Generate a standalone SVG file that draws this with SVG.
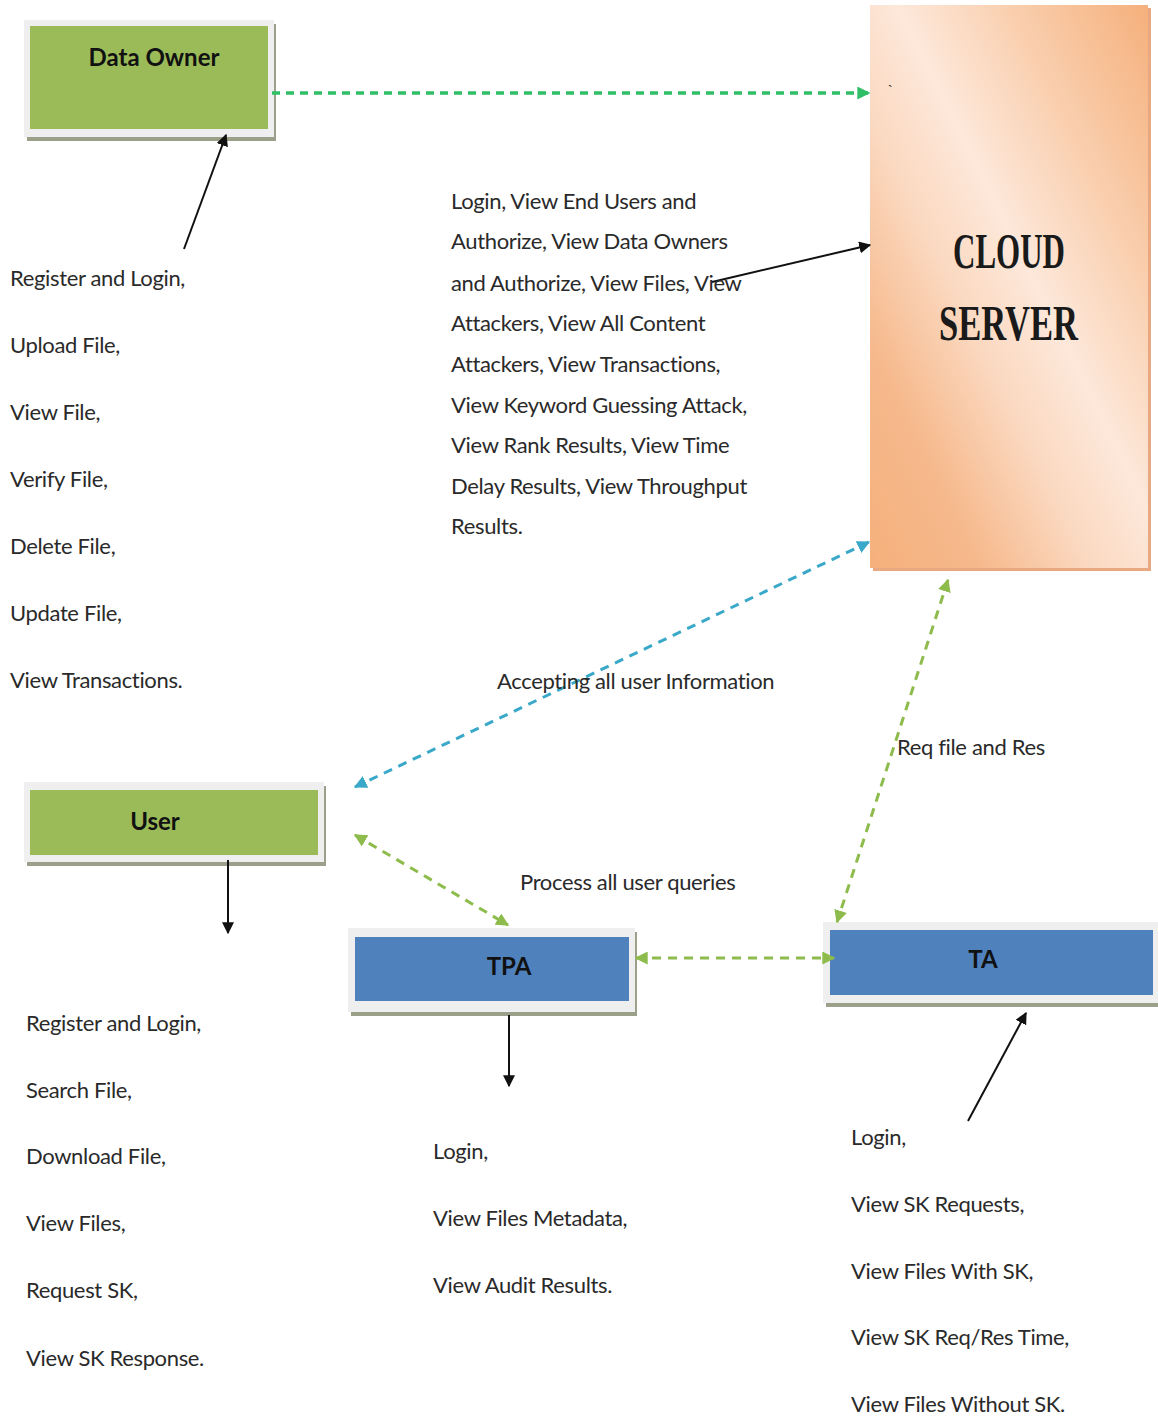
<svg xmlns="http://www.w3.org/2000/svg" width="1158" height="1420" viewBox="0 0 1158 1420">
<defs>
<linearGradient id="cloudGrad" x1="1" y1="0" x2="0" y2="1">
<stop offset="0" stop-color="#f5b07c"/>
<stop offset="0.22" stop-color="#f9cba8"/>
<stop offset="0.45" stop-color="#fde8da"/>
<stop offset="0.6" stop-color="#fbd9c1"/>
<stop offset="0.8" stop-color="#f6b98c"/>
<stop offset="1" stop-color="#f5b07c"/>
</linearGradient>
<marker id="ahBlack" viewBox="0 0 10 10" refX="9" refY="5" markerWidth="12" markerHeight="12" markerUnits="userSpaceOnUse" orient="auto"><path d="M0,0 L10,5 L0,10 z" fill="#111"/></marker>
<marker id="ahGreen" viewBox="0 0 10 10" refX="9" refY="5" markerWidth="13" markerHeight="13" markerUnits="userSpaceOnUse" orient="auto"><path d="M0,0 L10,5 L0,10 z" fill="#2fbf67"/></marker>
<marker id="ahBlueE" viewBox="0 0 10 10" refX="9" refY="5" markerWidth="13" markerHeight="13" markerUnits="userSpaceOnUse" orient="auto"><path d="M0,0 L10,5 L0,10 z" fill="#3aa8c8"/></marker>
<marker id="ahBlueS" viewBox="0 0 10 10" refX="1" refY="5" markerWidth="13" markerHeight="13" markerUnits="userSpaceOnUse" orient="auto"><path d="M10,0 L0,5 L10,10 z" fill="#3aa8c8"/></marker>
<marker id="ahOliveE" viewBox="0 0 10 10" refX="9" refY="5" markerWidth="13" markerHeight="13" markerUnits="userSpaceOnUse" orient="auto"><path d="M0,0 L10,5 L0,10 z" fill="#8dbb4c"/></marker>
<marker id="ahOliveS" viewBox="0 0 10 10" refX="1" refY="5" markerWidth="13" markerHeight="13" markerUnits="userSpaceOnUse" orient="auto"><path d="M10,0 L0,5 L10,10 z" fill="#8dbb4c"/></marker>
</defs>
<style>
.t{font-family:Lato,"Liberation Sans",sans-serif;font-size:22px;letter-spacing:-0.35px;fill:#2a2a2a}
.lbl{font-family:Lato,"Liberation Sans",sans-serif;font-size:24px;font-weight:bold;fill:#111;text-anchor:middle}
.cs{font-family:"Liberation Serif",serif;font-size:50px;font-weight:bold;fill:#1a1a1a}
.frame{fill:#efefef}
.shadow{fill:#9aa08a}
.green{fill:#9bbb59}
.blue{fill:#4f81bd}
.blk{stroke:#111;stroke-width:2;fill:none}
.dgreen{stroke:#2fbf67;stroke-width:3.5;stroke-dasharray:8 6;fill:none}
.dblue{stroke:#3aa8c8;stroke-width:3;stroke-dasharray:9 7;fill:none}
.dolive{stroke:#8dbb4c;stroke-width:3;stroke-dasharray:9 7;fill:none}
</style>
<rect width="1158" height="1420" fill="#fff"/>

<g id="data-owner">
<rect class="shadow" x="27" y="24" width="249" height="117"/>
<rect class="frame" x="24" y="20" width="250" height="117"/>
<rect class="green" x="30" y="26" width="238" height="103"/>
<text class="lbl" x="154" y="66">Data Owner</text>
</g>

<g id="cloud-server">
<rect x="873" y="8" width="278" height="563" fill="#e8a882"/>
<rect x="870" y="5" width="278" height="563" fill="url(#cloudGrad)"/>
<text class="cs" x="953" y="268" textLength="112" lengthAdjust="spacingAndGlyphs">CLOUD</text>
<text class="cs" x="939" y="340" textLength="139" lengthAdjust="spacingAndGlyphs">SERVER</text>
<text x="888" y="96" font-family="'Liberation Sans',sans-serif" font-size="14" fill="#111">`</text>
</g>

<g id="user">
<rect class="shadow" x="27" y="786" width="299" height="80"/>
<rect class="frame" x="24" y="782" width="300" height="80"/>
<rect class="green" x="30" y="790" width="288" height="65"/>
<text class="lbl" x="155" y="830">User</text>
</g>

<g id="tpa">
<rect class="shadow" x="351" y="932" width="286" height="84"/>
<rect class="frame" x="348" y="928" width="287" height="84"/>
<rect class="blue" x="355" y="937" width="274" height="64"/>
<text class="lbl" x="509" y="975">TPA</text>
</g>

<g id="ta">
<rect class="shadow" x="826" y="926" width="332" height="81"/>
<rect class="frame" x="823" y="922" width="335" height="81"/>
<rect class="blue" x="830" y="930" width="323" height="65"/>
<text class="lbl" x="983" y="968">TA</text>
</g>

<g id="connectors">
<line class="dgreen" x1="272" y1="93" x2="869" y2="93" marker-end="url(#ahGreen)"/>
<line class="blk" x1="184" y1="249" x2="226" y2="135" marker-end="url(#ahBlack)"/>
<line class="blk" x1="712" y1="282" x2="870" y2="245" marker-end="url(#ahBlack)"/>
<line class="dblue" x1="355" y1="787" x2="869" y2="542" marker-start="url(#ahBlueS)" marker-end="url(#ahBlueE)"/>
<line class="dolive" x1="355" y1="835" x2="508" y2="925" marker-start="url(#ahOliveS)" marker-end="url(#ahOliveE)"/>
<line class="dolive" x1="636" y1="958" x2="834" y2="958" marker-start="url(#ahOliveS)" marker-end="url(#ahOliveE)"/>
<line class="dolive" x1="948" y1="580" x2="837" y2="922" marker-start="url(#ahOliveS)" marker-end="url(#ahOliveE)"/>
<line class="blk" x1="228" y1="860" x2="228" y2="933" marker-end="url(#ahBlack)"/>
<line class="blk" x1="509" y1="1015" x2="509" y2="1086" marker-end="url(#ahBlack)"/>
<line class="blk" x1="968" y1="1121" x2="1026" y2="1013" marker-end="url(#ahBlack)"/>
</g>

<g id="labels">
<text class="t" x="10" y="286">Register and Login,</text>
<text class="t" x="10" y="353">Upload File,</text>
<text class="t" x="10" y="420">View File,</text>
<text class="t" x="10" y="487">Verify File,</text>
<text class="t" x="10" y="554">Delete File,</text>
<text class="t" x="10" y="621">Update File,</text>
<text class="t" x="10" y="688">View Transactions.</text>

<text class="t" x="451" y="209">Login, View End Users and</text>
<text class="t" x="451" y="249">Authorize, View Data Owners</text>
<text class="t" x="451" y="291">and Authorize, View Files, View</text>
<text class="t" x="451" y="331">Attackers, View All Content</text>
<text class="t" x="451" y="372">Attackers, View Transactions,</text>
<text class="t" x="451" y="413">View Keyword Guessing Attack,</text>
<text class="t" x="451" y="453">View Rank Results, View Time</text>
<text class="t" x="451" y="494">Delay Results, View Throughput</text>
<text class="t" x="451" y="534">Results.</text>

<text class="t" x="497" y="689">Accepting all user Information</text>
<text class="t" x="897" y="755">Req file and Res</text>
<text class="t" x="520" y="890">Process all user queries</text>

<text class="t" x="26" y="1031">Register and Login,</text>
<text class="t" x="26" y="1098">Search File,</text>
<text class="t" x="26" y="1164">Download File,</text>
<text class="t" x="26" y="1231">View Files,</text>
<text class="t" x="26" y="1298">Request SK,</text>
<text class="t" x="26" y="1366">View SK Response.</text>

<text class="t" x="433" y="1159">Login,</text>
<text class="t" x="433" y="1226">View Files Metadata,</text>
<text class="t" x="433" y="1293">View Audit Results.</text>

<text class="t" x="851" y="1145">Login,</text>
<text class="t" x="851" y="1212">View SK Requests,</text>
<text class="t" x="851" y="1279">View Files With SK,</text>
<text class="t" x="851" y="1345">View SK Req/Res Time,</text>
<text class="t" x="851" y="1412">View Files Without SK.</text>
</g>
</svg>
